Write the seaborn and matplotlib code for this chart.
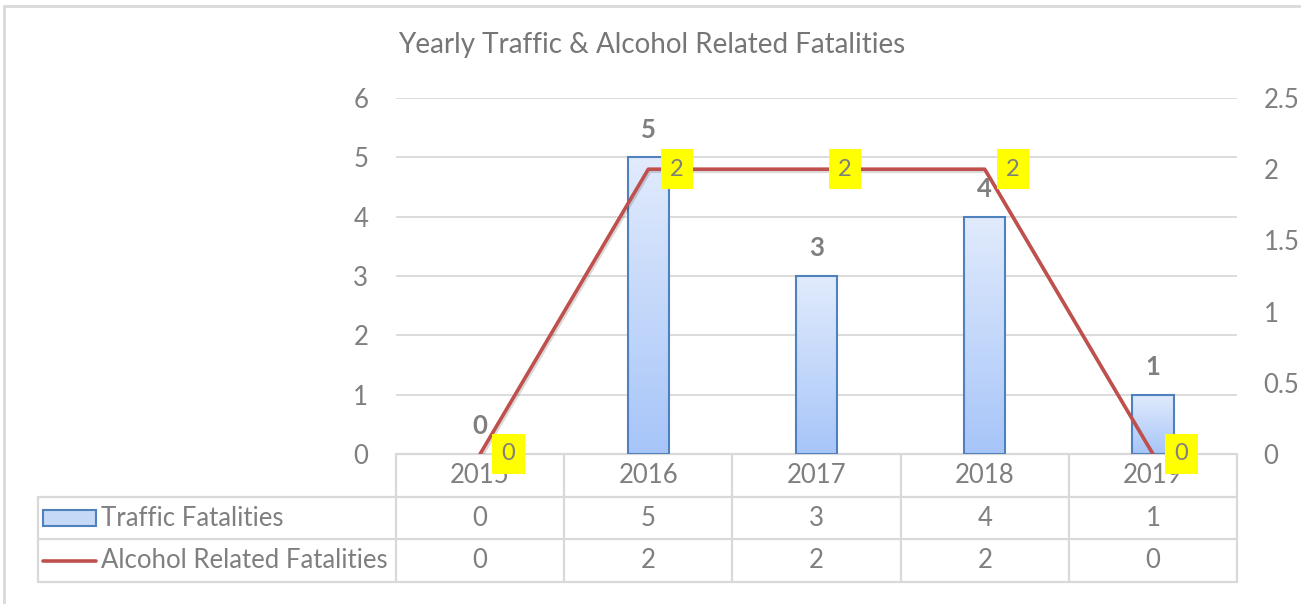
import numpy as np
import pandas as pd
import matplotlib
matplotlib.use('Agg')
import matplotlib.pyplot as plt
import seaborn as sns
from matplotlib.colors import LinearSegmentedColormap
from matplotlib.lines import Line2D
from matplotlib.patches import Rectangle
from matplotlib.ticker import FuncFormatter
import matplotlib.patheffects as pe

# data
years = ['2015', '2016', '2017', '2018', '2019']
traffic = [0, 5, 3, 4, 1]
alcohol = [0, 2, 2, 2, 0]
series_names = ['Traffic Fatalities', 'Alcohol Related Fatalities']
title = 'Yearly Traffic & Alcohol Related Fatalities'

df = pd.DataFrame({'year': years, 'traffic': traffic, 'alcohol': alcohol})
df['pos'] = np.arange(len(df))

sns.set_style('white')
plt.rcParams['font.family'] = ['Lato', 'DejaVu Sans']

GREY = '#7f7f7f'
GRID = '#d9d9d9'
RED = '#c0504d'
EDGE = '#4f81bd'
FS = 18.5

W, H = 1301, 604
fig = plt.figure(figsize=(W / 100, H / 100), dpi=100)

# plot area in pixels: x 396..1237, y 98..454
L, R, T, B = 396, 1237, 98, 454
ax = fig.add_axes([L / W, 1 - B / H, (R - L) / W, (B - T) / H])

sns.barplot(data=df, x='year', y='traffic', ax=ax, width=0.245,
            color='#c6d9f7', edgecolor=EDGE, linewidth=1.5, zorder=3)
ax.set_xlim(-0.5, len(years) - 0.5)
ax.set_ylim(0, 6)
ax.set_yticks(range(0, 7))
ax.grid(axis='y', color=GRID, lw=1.3, zorder=0)
ax.set_axisbelow(True)
for s in ax.spines.values():
    s.set_visible(False)
ax.tick_params(axis='y', length=0, pad=20, labelsize=FS, labelcolor=GREY)
ax.tick_params(axis='x', length=0, labelbottom=False)
ax.set_xlabel('')
ax.set_ylabel('')

# gradient fill on bars
cmap = LinearSegmentedColormap.from_list('bar', ['#a7c5f9', '#e1ebfc'])
grad = np.linspace(0, 1, 256).reshape(-1, 1)
for p in ax.patches:
    h = p.get_height()
    if h <= 0:
        p.set_linewidth(0)
        continue
    x0, w = p.get_x(), p.get_width()
    im = ax.imshow(grad, extent=[x0, x0 + w, 0, h], origin='lower',
                   aspect='auto', cmap=cmap, zorder=2.5)
    im.set_clip_path(p)
    p.set_facecolor('none')
ax.set_xlim(-0.5, len(years) - 0.5)
ax.set_ylim(0, 6)

# bar value labels
for i, v in enumerate(traffic):
    ax.annotate(str(v), (i, v), xytext=(0, 20), textcoords='offset points',
                ha='center', va='center', fontsize=FS, fontweight='bold',
                color=GREY, zorder=6)

# secondary axis with line
ax2 = ax.twinx()
sns.lineplot(data=df, x='pos', y='alcohol', ax=ax2, color=RED, lw=2.6,
             zorder=4, path_effects=[pe.SimpleLineShadow(offset=(1, -1.5), alpha=0.15),
                                     pe.Normal()])
ax2.set_ylim(0, 2.5)
ax2.set_yticks([0, 0.5, 1, 1.5, 2, 2.5])
ax2.yaxis.set_major_formatter(FuncFormatter(lambda v, _: '%g' % v))
ax2.tick_params(axis='y', length=0, pad=19, labelsize=FS, labelcolor=GREY)
ax2.set_xlabel('')
ax2.set_ylabel('')
for s in ax2.spines.values():
    s.set_visible(False)
ax2.set_xlim(-0.5, len(years) - 0.5)

for i, v in enumerate(alcohol):
    ax2.annotate(str(v), (i, v), xytext=(20.5, 0), textcoords='offset points',
                 ha='center', va='center', fontsize=FS - 1.5, color=GREY, zorder=10,
                 annotation_clip=False,
                 bbox=dict(boxstyle='square,pad=0.4', fc='#ffff00', ec='none'))

# data table below the plot
TB = 582
tax = fig.add_axes([L / W, 1 - TB / H, (R - L) / W, (TB - B) / H], sharex=ax)
tax.set_ylim(3, 0)
tax.axis('off')
n = len(years)
step = (R - L) / n
leg_left = -0.5 - (L - 38) / step
def px2x(px):
    return -0.5 + (px - L) / step

kw = dict(color=GRID, lw=1.6, clip_on=False)
tax.plot([-0.5, n - 0.5], [0, 0], **kw)
for r in (1, 2, 3):
    tax.plot([leg_left, n - 0.5], [r, r], **kw)
for k in range(n + 1):
    tax.plot([k - 0.5, k - 0.5], [0, 3], **kw)
tax.plot([leg_left, leg_left], [1, 3], **kw)

for i, y in enumerate(years):
    tax.text(i, 0.5, y, ha='center', va='center', fontsize=FS, color=GREY, zorder=1)
    tax.text(i, 1.5, str(traffic[i]), ha='center', va='center', fontsize=FS, color=GREY)
    tax.text(i, 2.5, str(alcohol[i]), ha='center', va='center', fontsize=FS, color=GREY)

tax.add_patch(Rectangle((px2x(43), 1.32), px2x(96) - px2x(43), 0.36,
                        fc='#c6d9f7', ec=EDGE, lw=1.5, clip_on=False))
tax.plot([px2x(43), px2x(96)], [2.5, 2.5], color=RED, lw=2.6, clip_on=False)
tax.text(px2x(101), 1.5, series_names[0], ha='left', va='center', fontsize=FS, color=GREY)
tax.text(px2x(101), 2.5, series_names[1], ha='left', va='center', fontsize=FS, color=GREY)

# make the yellow labels sit above the table text
ax2.set_zorder(3)
tax.set_zorder(1)
ax.set_zorder(2)
ax.patch.set_visible(False)
ax2.patch.set_visible(False)

# title and chart frame
fig.text(652 / W, 1 - 45 / H, title, ha='center', va='center', fontsize=20, color='#767676')
fig.add_artist(Line2D([4 / W, 4 / W], [0, 1 - 6 / H], color=GRID, lw=2))
fig.add_artist(Line2D([4 / W, 1], [1 - 6 / H, 1 - 6 / H], color=GRID, lw=2))

fig.savefig('out.png', dpi=100)
